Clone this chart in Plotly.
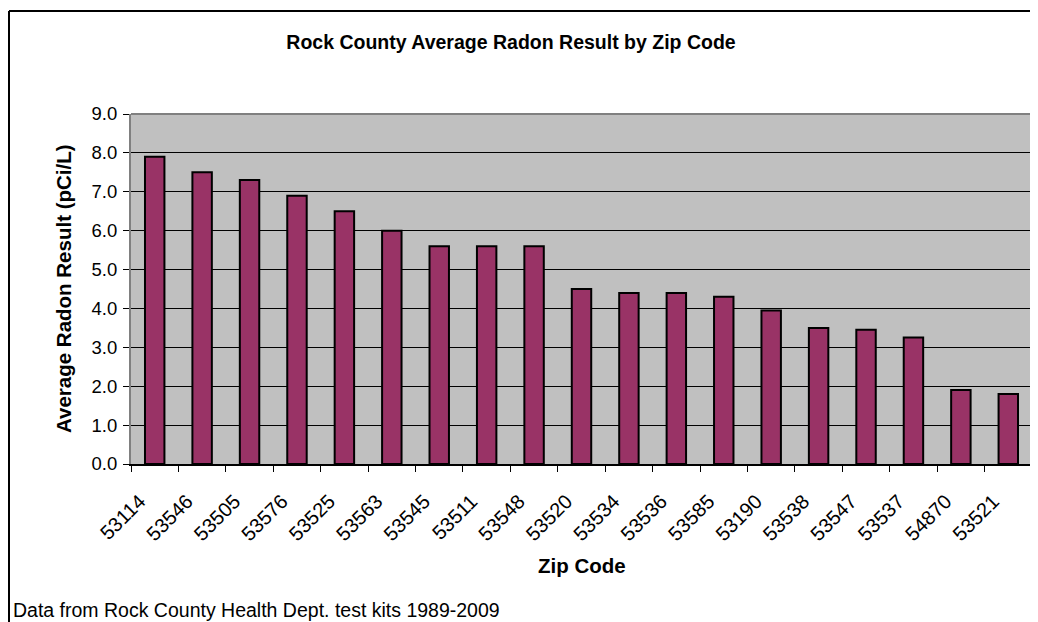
import plotly.graph_objects as go

zip_codes = ["53114", "53546", "53505", "53576", "53525", "53563", "53545", "53511",
             "53548", "53520", "53534", "53536", "53585", "53190", "53538", "53547",
             "53537", "54870", "53521"]
avg_radon = [7.9, 7.5, 7.3, 6.9, 6.5, 6.0, 5.6, 5.6, 5.6, 4.5, 4.4, 4.4, 4.3, 3.95,
             3.5, 3.45, 3.25, 1.9, 1.8]
y_ticks = [0, 1, 2, 3, 4, 5, 6, 7, 8, 9]
y_tick_text = ["0.0", "1.0", "2.0", "3.0", "4.0", "5.0", "6.0", "7.0", "8.0", "9.0"]

FONT = "Liberation Sans, Arial, sans-serif"

# page body has an 8px margin; compensate so the plot area sits at x=131..1032, y=114..464
OFF = 8
L, T, PW, PH = 131, 114, 901, 350


def px(x):
    return (x - L) / PW


def py(y):
    return (T + PH - y) / PH


fig = go.Figure(go.Bar(
    x=zip_codes, y=avg_radon,
    marker=dict(color="#993366", line=dict(color="black", width=2)),
    width=0.41,
))

fig.update_layout(
    width=1038 - OFF, height=622 - OFF,
    margin=dict(l=L - OFF, r=1038 - OFF - (L - OFF) - PW, t=T - OFF,
                b=622 - OFF - (T - OFF) - PH, autoexpand=False),
    paper_bgcolor="white", plot_bgcolor="#C0C0C0",
    font=dict(family=FONT, size=18, color="black"),
    showlegend=False,
    title=dict(text="<b>Rock County Average Radon Result by Zip Code</b>",
               x=(511 - OFF) / (1038 - OFF), xanchor="center",
               y=1 - (42 - OFF) / (622 - OFF), yanchor="middle",
               font=dict(size=19.5, family=FONT, color="black")),
    xaxis=dict(type="category", tickangle=-45, ticks="outside", ticklen=6,
               tickcolor="black", tickwidth=1, tickson="boundaries",
               showline=True, linecolor="black", linewidth=1.5,
               showgrid=False, tickfont=dict(size=20),
               ticklabelstandoff=16, ticklabelshift=-15),
    yaxis=dict(range=[0, 9], tickvals=y_ticks, ticktext=y_tick_text,
               ticks="outside", ticklen=6, tickcolor="black", tickwidth=1,
               showline=True, linecolor="#808080", linewidth=2,
               showgrid=True, gridcolor="black", gridwidth=1,
               zeroline=False, tickfont=dict(size=18.5),
               ticklabelstandoff=2),
    annotations=[
        dict(text="<b>Average Radon Result (pCi/L)</b>", textangle=-90,
             xref="paper", yref="paper", x=px(63), y=py(289),
             xanchor="center", yanchor="middle", showarrow=False,
             font=dict(size=20.5)),
        dict(text="<b>Zip Code</b>", xref="paper", yref="paper",
             x=px(582), y=py(565), xanchor="center", yanchor="middle",
             showarrow=False, font=dict(size=20.5)),
        dict(text="Data from Rock County Health Dept. test kits 1989-2009",
             xref="paper", yref="paper", x=px(11), y=py(610),
             xanchor="left", yanchor="middle", showarrow=False,
             font=dict(size=19.5)),
    ],
    shapes=[
        dict(type="line", xref="paper", yref="paper", x0=0, x1=1, y0=1, y1=1,
             line=dict(color="#808080", width=2)),
        dict(type="line", xref="paper", yref="paper", x0=1, x1=1, y0=0, y1=1,
             line=dict(color="#808080", width=2)),
        dict(type="line", xref="paper", yref="paper", x0=px(9), x1=px(1045),
             y0=py(11), y1=py(11), line=dict(color="black", width=2)),
        dict(type="line", xref="paper", yref="paper", x0=px(9), x1=px(9),
             y0=py(11), y1=py(630), line=dict(color="black", width=2)),
    ],
)

fig.write_html("out.html")
